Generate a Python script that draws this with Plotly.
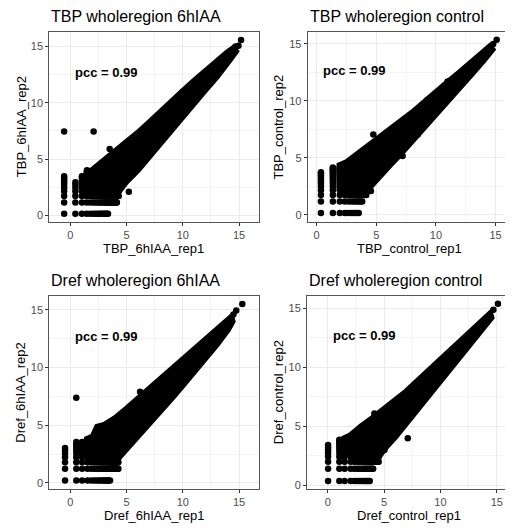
import plotly.graph_objects as go

# page body has an 8px margin: geometry below is in page pixels, shifted by OFF
OFF = 8.0
PAGE_W, PAGE_H = 513, 532
W, H = PAGE_W - OFF, PAGE_H - OFF
FONT = "Liberation Sans, Arial, Helvetica, sans-serif"

TITLES = ["TBP wholeregion 6hIAA", "TBP wholeregion control",
          "Dref wholeregion 6hIAA", "Dref wholeregion control"]
X_LABELS = ["TBP_6hIAA_rep1", "TBP_control_rep1", "Dref_6hIAA_rep1", "Dref_control_rep1"]
Y_LABELS = ["TBP_6hIAA_rep2", "TBP_control_rep2", "Dref_6hIAA_rep2", "Dref_control_rep2"]
PCC_LABEL = "pcc = 0.99"
PCC_X = [3.2, 3.2, 3.2, 3.25]
PCC_Y = [12.7, 12.7, 12.65, 12.7]
TICK_VALUES = [0, 5, 10, 15]

# ---- Panel 1: TBP wholeregion 6hIAA ----
P1_COLS = [-0.55, 0.45, 1.03, 1.45, 1.77, 2.03, 2.25, 2.45, 2.62, 2.77, 2.90, 3.03,
           3.15, 3.25, 3.35, 3.45, 3.54, 3.62, 3.70, 3.77, 3.84, 3.90, 3.97, 4.03,
           4.09, 4.14, 4.20, 4.25, 4.30]
P1_COL_TOP = [3.47, 2.95, 3.60] + [3.60] * 26
P1_ROWS = [0.15, 1.15, 1.73, 2.15, 2.47, 2.73, 2.95, 3.15, 3.32, 3.47]
P1_ROW_END = [3.40, 4.14, 4.30, 4.30, 4.30, 4.30, 4.30, 4.30, 4.30, 4.30]
P1_BAND_X = [1.45, 1.45, 2.0, 2.5, 3.0, 3.5, 4.0, 5.0, 6.0, 7.0, 8.0, 9.0, 10.0, 11.0,
             12.0, 13.0, 14.0, 14.5, 14.7, 14.2, 14.0, 13.0, 12.0, 11.0, 10.0, 9.0,
             8.0, 7.0, 6.0, 5.0, 4.4, 4.3]
P1_BAND_Y = [2.15, 3.75, 4.05, 4.45, 4.85, 5.25, 5.6, 6.4, 7.3, 8.2, 9.2, 10.1, 11.0, 11.9,
             12.8, 13.7, 14.45, 14.8, 14.55, 13.85, 13.55, 12.3, 11.15, 9.95, 8.75, 7.55,
             6.45, 5.25, 4.05, 3.05, 2.4, 2.15]
P1_OUT_X = [-0.55, 2.07, 5.2, 15.18, 14.95, 3.5, 1.48, 14.68]
P1_OUT_Y = [7.44, 7.44, 2.1, 15.55, 15.05, 5.9, 4.0, 14.98]

# ---- Panel 2: TBP wholeregion control ----
P2_COLS = [0.36, 1.36, 1.94, 2.36, 2.68, 2.94, 3.16, 3.36, 3.53, 3.68, 3.82, 3.94,
           4.06, 4.16, 4.26, 4.36, 4.45]
P2_COL_TOP = [3.85, 4.19] + [4.19] * 15
P2_ROWS = [0.17, 1.17, 1.75, 2.17, 2.49, 2.75, 2.97, 3.17, 3.34, 3.49, 3.63, 3.75,
           3.87, 3.98, 4.08, 4.17]
P2_ROW_END = [3.63, 3.90, 4.20] + [4.40] * 13
P2_BAND_X = [1.94, 1.94, 2.5, 3.0, 4.0, 5.0, 6.0, 7.0, 8.0, 9.0, 10.0, 11.0, 12.0,
             13.0, 14.0, 14.5, 14.7, 14.3, 14.0, 13.0, 12.0, 11.0, 10.0, 9.0, 8.0,
             7.0, 6.0, 5.0, 4.5, 4.4]
P2_BAND_Y = [2.17, 4.35, 4.6, 5.0, 5.75, 6.45, 7.25, 8.05, 8.95, 9.85, 10.8, 11.65, 12.5,
             13.4, 14.3, 14.75, 14.5, 13.95, 13.6, 12.4, 11.2, 10.0, 8.85, 7.65, 6.45,
             5.35, 4.25, 3.1, 2.5, 2.17]
P2_OUT_X = [15.09, 4.75, 10.98, 4.55, 7.2, 8.47, 8.6, 9.3, 14.8]
P2_OUT_Y = [15.36, 7.05, 11.7, 2.1, 5.16, 7.05, 8.95, 10.1, 15.0]

# ---- Panel 3: Dref wholeregion 6hIAA ----
P3_COLS = [-0.47, 0.53, 1.05, 1.53, 1.85, 2.11, 2.33, 2.53, 2.70, 2.85, 2.98, 3.11,
           3.23, 3.33, 3.43, 3.53, 3.62, 3.70, 3.78, 3.85, 3.92, 3.98, 4.05, 4.11,
           4.17, 4.22, 4.27]
P3_COL_TOP = [3.02, 3.54, 3.80] + [3.80] * 24
P3_ROWS = [0.22, 1.22, 1.80, 2.22, 2.54, 2.80, 3.02, 3.22, 3.39, 3.54]
P3_ROW_END = [3.54, 4.27, 4.27, 4.27, 4.27, 4.27, 4.27, 4.27, 4.27, 4.27]
P3_BAND_X = [1.5, 1.5, 2.0, 2.4, 3.0, 4.0, 5.0, 6.0, 7.0, 8.0, 9.0, 10.0, 11.0,
             12.0, 13.0, 14.0, 14.3, 14.4, 14.0, 13.0, 12.0, 11.0, 10.0, 9.0, 8.0,
             7.0, 6.0, 5.0, 4.4, 4.3]
P3_BAND_Y = [2.22, 3.8, 4.0, 4.85, 5.0, 5.6, 6.4, 7.25, 8.05, 8.85, 9.75, 10.55, 11.45,
             12.25, 13.15, 14.1, 14.35, 14.0, 13.3, 12.0, 10.9, 9.7, 8.5, 7.35, 6.25,
             5.15, 4.05, 3.0, 2.4, 2.22]
P3_OUT_X = [0.53, 6.2, 15.29, 14.75, 14.5]
P3_OUT_Y = [7.37, 7.89, 15.5, 14.94, 14.6]

# ---- Panel 4: Dref wholeregion control ----
P4_COLS = [0.03, 1.03, 1.50, 2.03, 2.35, 2.61, 2.83, 3.03, 3.20, 3.35, 3.49, 3.61,
           3.73, 3.83, 3.93, 4.03, 4.12, 4.20, 4.28, 4.36, 4.44, 4.52]
P4_COL_TOP = [3.50, 3.87] + [3.98] * 20
P4_ROWS = [0.39, 1.42, 2.00, 2.42, 2.74, 3.00, 3.22, 3.42, 3.59, 3.74, 3.87]
P4_ROW_END = [3.75, 4.05, 4.60] + [4.60] * 8
P4_BAND_X = [1.5, 1.5, 2.0, 2.8, 3.0, 4.0, 5.0, 6.0, 7.0, 8.0, 9.0, 10.0, 11.0,
             12.0, 13.0, 14.0, 14.4, 14.5, 14.0, 13.0, 12.0, 11.0, 10.0, 9.0, 8.0,
             7.0, 6.0, 5.0, 4.6, 4.5]
P4_BAND_Y = [2.42, 3.98, 4.2, 4.97, 5.0, 5.7, 6.4, 7.15, 7.95, 8.85, 9.75, 10.55, 11.45,
             12.35, 13.25, 14.1, 14.5, 14.2, 13.6, 12.4, 11.2, 10.0, 8.8, 7.6, 6.4,
             5.25, 4.15, 3.1, 2.6, 2.42]
P4_OUT_X = [15.1, 4.14, 5.03, 7.1, 9.17, 14.7]
P4_OUT_Y = [15.36, 6.09, 3.0, 4.0, 8.2, 14.85]

# ---- layout geometry (page pixels) ----
PANEL_X_PX = [(49.3, 258.5), (307.7, 511.0), (49.3, 258.5), (307.0, 511.0)]
PANEL_Y_PX = [(32.3, 223.0), (32.3, 222.7), (297.3, 491.0), (297.3, 491.0)]
X_RANGES = [(-1.87, 16.73), (-0.75, 16.29), (-1.87, 16.73), (-1.84, 16.26)]
Y_RANGES = [(-0.59, 16.24), (-0.61, 16.03), (-0.54, 16.18), (-0.31, 16.0)]
TITLE_Y_PX = [16.5, 16.5, 281.5, 281.5]
XLAB_Y_PX = [249.0, 249.0, 517.5, 517.5]
YLAB_X_PX = [21.0, 278.5, 21.0, 278.5]

PANELS = [
    (P1_COLS, P1_COL_TOP, P1_ROWS, P1_ROW_END, P1_BAND_X, P1_BAND_Y, P1_OUT_X, P1_OUT_Y),
    (P2_COLS, P2_COL_TOP, P2_ROWS, P2_ROW_END, P2_BAND_X, P2_BAND_Y, P2_OUT_X, P2_OUT_Y),
    (P3_COLS, P3_COL_TOP, P3_ROWS, P3_ROW_END, P3_BAND_X, P3_BAND_Y, P3_OUT_X, P3_OUT_Y),
    (P4_COLS, P4_COL_TOP, P4_ROWS, P4_ROW_END, P4_BAND_X, P4_BAND_Y, P4_OUT_X, P4_OUT_Y),
]


def px_x(p):
    return (p - OFF) / W


def px_y(p):
    return 1 - (p - OFF) / H


DOT = 6.5
fig = go.Figure()
annotations = []
layout_axes = {}

for i, (cols, col_top, rows, row_end, bx, by, ox, oy) in enumerate(PANELS):
    n = "" if i == 0 else str(i + 1)
    xa, ya = "x" + n, "y" + n
    # dense cloud body
    fig.add_trace(go.Scatter(x=bx, y=by, xaxis=xa, yaxis=ya, mode="lines",
                             fill="toself", fillcolor="black",
                             line=dict(color="black", width=DOT),
                             hoverinfo="skip", showlegend=False))
    # discrete low-count lattice + isolated points
    lx, ly = [], []
    for r, yv in enumerate(rows):
        for c, xv in enumerate(cols):
            if xv <= row_end[r] and yv <= col_top[c]:
                lx.append(xv)
                ly.append(yv)
    fig.add_trace(go.Scatter(x=lx + list(ox), y=ly + list(oy), xaxis=xa, yaxis=ya,
                             mode="markers",
                             marker=dict(color="black", size=DOT, line=dict(width=0)),
                             hoverinfo="skip", showlegend=False))

    x0, x1 = PANEL_X_PX[i]
    y0, y1 = PANEL_Y_PX[i]
    common = dict(
        showgrid=True, gridcolor="#EBEBEB", gridwidth=1,
        minor=dict(dtick=2.5, tick0=0, showgrid=True, gridcolor="#F4F4F4", gridwidth=0.6,
                   ticks=""),
        zeroline=False, showline=True, mirror=True, linecolor="#555555", linewidth=1,
        ticks="outside", ticklen=3, tickwidth=1, tickcolor="#333333",
        tickvals=TICK_VALUES,
        tickfont=dict(family=FONT, size=11, color="#4D4D4D"),
    )
    layout_axes["xaxis" + n] = dict(common, domain=[px_x(x0), px_x(x1)],
                                    range=list(X_RANGES[i]), anchor=ya)
    layout_axes["yaxis" + n] = dict(common, domain=[px_y(y1), px_y(y0)],
                                    range=list(Y_RANGES[i]), anchor=xa)

    annotations.append(dict(text=TITLES[i], xref="paper", yref="paper",
                            x=px_x(x0), y=px_y(TITLE_Y_PX[i]), xanchor="left",
                            yanchor="middle", showarrow=False,
                            font=dict(family=FONT, size=16, color="black")))
    annotations.append(dict(text=X_LABELS[i], xref="paper", yref="paper",
                            x=px_x((x0 + x1) / 2), y=px_y(XLAB_Y_PX[i]), xanchor="center",
                            yanchor="middle", showarrow=False,
                            font=dict(family=FONT, size=13, color="black")))
    annotations.append(dict(text=Y_LABELS[i], xref="paper", yref="paper",
                            x=px_x(YLAB_X_PX[i]), y=px_y((y0 + y1) / 2), xanchor="center",
                            yanchor="middle", textangle=-90, showarrow=False,
                            font=dict(family=FONT, size=13, color="black")))
    annotations.append(dict(text="<b>" + PCC_LABEL + "</b>", xref=xa, yref=ya,
                            x=PCC_X[i], y=PCC_Y[i], xanchor="center", yanchor="middle",
                            showarrow=False,
                            font=dict(family=FONT, size=13, color="black")))

fig.update_layout(
    width=W, height=H, margin=dict(l=0, r=0, t=0, b=0),
    paper_bgcolor="white", plot_bgcolor="white",
    annotations=annotations, showlegend=False,
    **layout_axes,
)

fig.write_html("out.html")
